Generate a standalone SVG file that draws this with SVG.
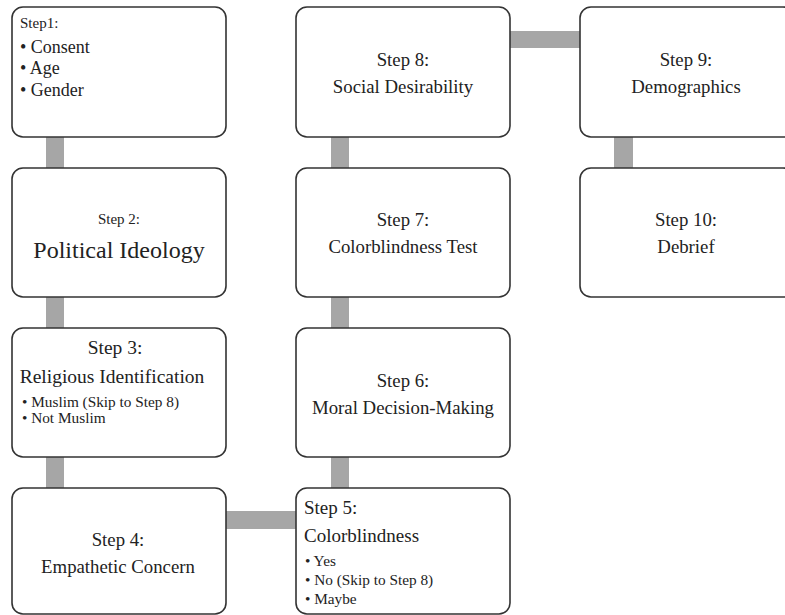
<svg xmlns="http://www.w3.org/2000/svg" width="785" height="615" viewBox="0 0 785 615">
<style>
.box{fill:#fff;stroke:#333;stroke-width:1.6}
.c{fill:#a6a6a6}
text{font-family:"Liberation Serif","Times New Roman",serif;fill:#222}
.m{font-size:18.8px;text-anchor:middle}
.s{font-size:15px}
.b{font-size:18px}
.sb{font-size:15.3px}
</style>
<rect width="785" height="615" fill="#fff"/>
<g id="connectors">
<rect class="c" x="46" y="136" width="18" height="33"/>
<rect class="c" x="46" y="296" width="18" height="33"/>
<rect class="c" x="46" y="456" width="18" height="33"/>
<rect class="c" x="225" y="511" width="72" height="18"/>
<rect class="c" x="331" y="456" width="18" height="33"/>
<rect class="c" x="331" y="296" width="18" height="33"/>
<rect class="c" x="331" y="136" width="18" height="33"/>
<rect class="c" x="510" y="31" width="71" height="17"/>
<rect class="c" x="614" y="136" width="19" height="33"/>
</g>
<g id="step1">
<rect class="box" x="12" y="7" width="214" height="130" rx="11"/>
<text class="s" x="20" y="28">Step1:</text>
<text class="b" x="20" y="53">• Consent</text>
<text class="b" x="20" y="74">• Age</text>
<text class="b" x="20" y="96">• Gender</text>
</g>
<g id="step2">
<rect class="box" x="12" y="168" width="214" height="129" rx="11"/>
<text class="s" x="119" y="224" text-anchor="middle">Step 2:</text>
<text x="119" y="258" font-size="24" text-anchor="middle">Political Ideology</text>
</g>
<g id="step3">
<rect class="box" x="12" y="328" width="214" height="129" rx="11"/>
<text x="115" y="354" font-size="19.5" text-anchor="middle">Step 3:</text>
<text x="112" y="383" font-size="19.5" text-anchor="middle">Religious Identification</text>
<text class="sb" x="22" y="407">• Muslim (Skip to Step 8)</text>
<text class="sb" x="22" y="423">• Not Muslim</text>
</g>
<g id="step4">
<rect class="box" x="12" y="488" width="214" height="126" rx="11"/>
<text class="m" x="118" y="546">Step 4:</text>
<text class="m" x="118" y="573">Empathetic Concern</text>
</g>
<g id="step5">
<rect class="box" x="296" y="488" width="214" height="126" rx="11"/>
<text x="304" y="514" font-size="19">Step 5:</text>
<text x="304" y="542" font-size="19">Colorblindness</text>
<text class="sb" x="305" y="566">• Yes</text>
<text class="sb" x="305" y="585">• No (Skip to Step 8)</text>
<text class="sb" x="305" y="604">• Maybe</text>
</g>
<g id="step6">
<rect class="box" x="296" y="328" width="214" height="129" rx="11"/>
<text class="m" x="403" y="387">Step 6:</text>
<text class="m" x="403" y="414">Moral Decision-Making</text>
</g>
<g id="step7">
<rect class="box" x="296" y="168" width="214" height="129" rx="11"/>
<text class="m" x="403" y="226">Step 7:</text>
<text class="m" x="403" y="253">Colorblindness Test</text>
</g>
<g id="step8">
<rect class="box" x="296" y="7" width="214" height="130" rx="11"/>
<text class="m" x="403" y="66">Step 8:</text>
<text class="m" x="403" y="93">Social Desirability</text>
</g>
<g id="step9">
<rect class="box" x="580" y="7" width="214" height="130" rx="11"/>
<text class="m" x="686" y="66">Step 9:</text>
<text class="m" x="686" y="93">Demographics</text>
</g>
<g id="step10">
<rect class="box" x="580" y="168" width="214" height="129" rx="11"/>
<text class="m" x="686" y="226">Step 10:</text>
<text class="m" x="686" y="253">Debrief</text>
</g>
</svg>
